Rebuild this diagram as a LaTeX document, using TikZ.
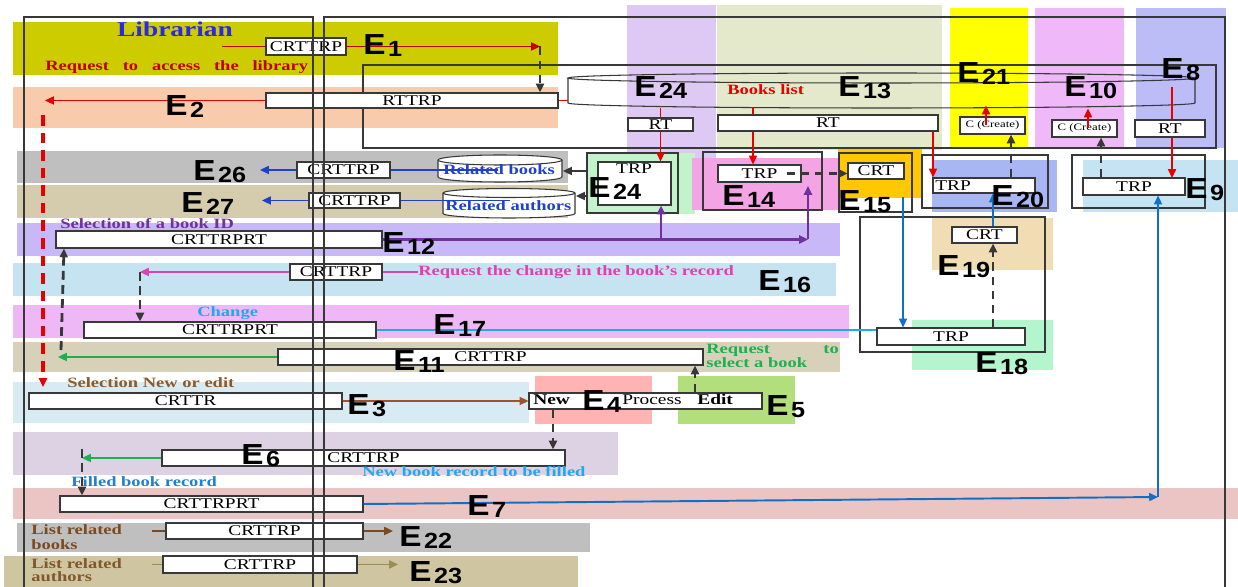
\documentclass[tikz,border=0pt]{standalone}
\usepackage{fontspec}
\setmainfont{Liberation Serif}
\setsansfont{Liberation Sans}
\usepackage{graphicx}
\usetikzlibrary{arrows.meta,calc,fit}
\definecolor{ink}{HTML}{383838}
\definecolor{bOlive}{HTML}{CCCC00}
\definecolor{bPeach}{HTML}{F8CBAD}
\definecolor{bGray}{HTML}{BFBFBF}
\definecolor{bTan}{HTML}{D4CCAC}
\definecolor{bPurp}{HTML}{C8B8F8}
\definecolor{bIce}{HTML}{C5E3F0}
\definecolor{bLilac}{HTML}{EEB8F6}
\definecolor{bTan2}{HTML}{D8D1BA}
\definecolor{bMist}{HTML}{D9EBF2}
\definecolor{bSalm}{HTML}{FFB3B3}
\definecolor{bLime}{HTML}{B2DE7C}
\definecolor{bHeath}{HTML}{DCD2E4}
\definecolor{bRose}{HTML}{EBC4C4}
\definecolor{bKhaki}{HTML}{CFC6A1}
\definecolor{cLav}{HTML}{DDC9F3}
\definecolor{cSage}{HTML}{E4E9CB}
\definecolor{cYel}{HTML}{FFFF00}
\definecolor{cPink}{HTML}{EFB8F8}
\definecolor{cPeri}{HTML}{BCBCF6}
\definecolor{fMint}{HTML}{C3F3CA}
\definecolor{fOrch}{HTML}{F2A4E4}
\definecolor{fAmber}{HTML}{FFC800}
\definecolor{fCorn}{HTML}{A9B6F4}
\definecolor{fSky}{HTML}{C4E3F3}
\definecolor{fSand}{HTML}{F0DDB3}
\definecolor{fJade}{HTML}{B3F6CD}
\definecolor{cRed}{HTML}{E60000}
\definecolor{cDRed}{HTML}{C00000}
\definecolor{cBlue}{HTML}{1F3FD0}
\definecolor{cPurp}{HTML}{7030A0}
\definecolor{cMag}{HTML}{E040B0}
\definecolor{cGreen}{HTML}{1DB050}
\definecolor{cSky}{HTML}{20A8F0}
\definecolor{cDBlue}{HTML}{1070C8}
\definecolor{cBrown}{HTML}{A0522D}
\definecolor{cBrn}{HTML}{8B5A2B}
\definecolor{cBrn2}{HTML}{7B4A20}
\definecolor{cOlv}{HTML}{9B8D55}
\definecolor{cLib}{HTML}{2A2AE0}
\definecolor{cFill}{HTML}{1F7FD0}
\newcommand{\sx}[1]{\scalebox{1.3}[1]{#1}}
\newcommand{\elab}[1]{\scalebox{1.15}[1]{\sffamily\bfseries\fontsize{16.5}{17}\selectfont E\kern1.2pt\raisebox{-1.2pt}{\fontsize{12.5}{13}\selectfont #1}}}
\tikzset{
  bx/.style={draw=ink,fill=white,inner sep=0pt,line width=0.6pt,font=\fontsize{8.5}{9}\selectfont},
  cbx/.style={bx,font=\fontsize{5.6}{6}\selectfont},
  sz/.style 2 args={minimum width=#1*0.02cm,minimum height=#2*0.02cm},
  frm/.style={draw=ink,inner sep=0pt,line width=0.6pt},
  ln/.style={ink,line width=0.6pt},
  lbl/.style={inner sep=0pt,anchor=base west,font=\fontsize{8.1}{9}\selectfont\bfseries},
  btx/.style={inner sep=0pt,anchor=base,font=\fontsize{8.5}{9}\selectfont},
  elb/.style={inner sep=0pt,anchor=south west},
  hd/.style={-{Triangle[length=5pt,width=4.5pt]}},
  sol/.style={line width=1.1pt},
  dsh/.style={ink,line width=1.6pt,dash pattern=on 5pt off 3pt,hd},
}

\begin{document}
\begin{tikzpicture}[x=0.02cm,y=-0.02cm]
  \useasboundingbox (0,0) rectangle (1238,587);
  % ===================== colour bands =====================
  \foreach \c/\xa/\ya/\xb/\yb in {bOlive/13/22/558/75, bPeach/13/87/558/128,
      bGray/17/151/568/183, bTan/17/185/568/218, bPurp/17/223/840/256,
      bIce/13/263/836/296, bLilac/13/305/849/338, bTan2/13/342/840/372,
      bMist/13/382/529/423, bSalm/535/376/652/424, bLime/678/376/795/424,
      bHeath/13/432/618/475, bRose/13/488/1238/519, bGray/17/523/590/552,
      bKhaki/4/556/578/590}
    \fill[\c] (\xa,\ya) rectangle (\xb,\yb);
  \foreach \c/\xa/\ya/\xb/\yb in {cLav/627/5/716/158, cSage/717/5/942/150,
      cYel/950/8/1028/148, cPink/1035/8/1124/148, cPeri/1136/8/1226/148,
      fMint/586/153/695/214, fOrch/692/158/838/210, fAmber/838/149/922/198,
      fCorn/932/160/1057/212, fSky/1083/160/1238/212, fSand/932/218/1053/270,
      fJade/912/320/1053/370}
    \fill[\c] (\xa,\ya) rectangle (\xb,\yb);

  % ===================== frames =====================
  \draw[ln] (363,65) rectangle (1216,148);
  \node[frm,fit={(587,153) (678,213)}] (fE24) {};
  \node[frm,fit={(703,152) (822,210)}] (fE14) {};
  \node[frm,fit={(839,153) (912,212)}] (fE15) {};
  \node[frm,fit={(922,155) (1048,208)}] (fE20) {};
  \node[frm,fit={(1072,155) (1205,208)}] (fE9) {};
  \node[frm,fit={(860,217) (1045,352)}] (fE18) {};

  % databases
  \draw[ln] (568,78) -- (568,103) arc[start angle=180,end angle=0,x radius=313.5,y radius=5] -- (1195,78);
  \draw[ln] (881.5,78) ellipse[x radius=313.5,y radius=5];
  \filldraw[ln,fill=white] (438,160) -- (438,177) arc[start angle=180,end angle=0,x radius=62,y radius=5]
    -- (562,160) arc[start angle=0,end angle=-180,x radius=62,y radius=5] -- cycle;
  \draw[ln] (438,160) arc[start angle=180,end angle=0,x radius=62,y radius=5];
  \filldraw[ln,fill=white] (443,193) -- (443,213.5) arc[start angle=180,end angle=0,x radius=66,y radius=4.5]
    -- (575,193) arc[start angle=0,end angle=-180,x radius=66,y radius=4.5] -- cycle;
  \draw[ln] (443,193) arc[start angle=180,end angle=0,x radius=66,y radius=4.5];
  \coordinate (dbL) at (568,100.5);
  \coordinate (rbL) at (498,170);
  \coordinate (rbR) at (563,171);
  \coordinate (raL) at (510,200.5);
  \coordinate (raR) at (576,196);

  % E8 goes under its RT box
  \coordinate (u8) at (1172,87);

  % ===================== boxes =====================
  \node[bx,sz={80}{17}] (bxE1) at (306,46.5) {\sx{CRTTRP}};
  \node[bx,sz={292}{15}] (bxE2) at (412,100.5) {\sx{RTTRP}};
  \node[bx,sz={93}{16}] (bxE26) at (343.5,170) {\sx{CRTTRP}};
  \node[bx,sz={91}{15}] (bxE27) at (354.5,200.5) {\sx{CRTTRP}};
  \node[bx,sz={326}{17}] (bxE12) at (219,239.5) {\sx{CRTTRPRT}};
  \node[bx,sz={92}{16}] (bxE16) at (336,272) {\sx{CRTTRP}};
  \node[bx,sz={292}{16}] (bxE17) at (230,330) {\sx{CRTTRPRT}};
  \node[bx,sz={425}{16}] (bxE11) at (490.5,357) {\sx{CRTTRP}};
  \node[bx,sz={313}{16}] (bxE3) at (185.5,401) {\sx{CRTTR}};
  \node[bx,sz={233}{16}] (bxNPE) at (645.5,401) {};
  \node[bx,sz={403}{16}] (bxE6) at (363.5,458) {\sx{CRTTRP}};
  \node[bx,sz={303}{16}] (bxE7) at (211.5,504) {\sx{CRTTRPRT}};
  \node[bx,sz={197}{16}] (bxE22) at (264.5,531) {\sx{CRTTRP}};
  \node[bx,sz={194}{17}] (bxE23) at (260,564.5) {\sx{CRTTRP}};
  \draw[cRed,sol,hd] (u8) -- (u8 |- 0,178);
  \node[bx,sz={65}{13}] (rtE24) at (660.5,124.5) {\sx{RT}};
  \node[bx,sz={220}{16}] (rtE13) at (828,123) {\sx{RT}};
  \node[cbx,sz={65}{17}] (crE21) at (992.5,125.5) {\sx{C (Create)}};
  \node[cbx,sz={65}{17}] (crE10) at (1084.5,128.5) {\sx{C (Create)}};
  \node[bx,sz={70}{17}] (rtE8) at (1170,128.5) {\sx{RT}};
  \node[bx,sz={73}{43}] (trpE24) at (634.5,183.5) {};
  \node[bx,sz={83}{17}] (trpE14) at (759.5,173.5) {\sx{TRP}};
  \node[bx,sz={56}{16}] (crtE15) at (876,171) {\sx{CRT}};
  \node[bx,sz={102}{15}] (trpE20) at (984,185.5) {};
  \node[bx,sz={102}{17}] (trpE9) at (1134,186.5) {\sx{TRP}};
  \node[bx,sz={65}{16}] (crtE19) at (984.5,235) {\sx{CRT}};
  \node[bx,sz={148}{17}] (trpE18) at (951,336.5) {\sx{TRP}};
  \node[btx] (tTrp24) at (634,174) {\sx{TRP}};
  \node[btx,anchor=base west] (tTrp20) at (935,191) {\sx{TRP}};
  \node[btx,anchor=base west,font=\fontsize{8.5}{9}\selectfont\bfseries] (tNew) at (533,405) {\sx{New}};
  \node[btx,anchor=base west] (tProc) at (622,405) {\sx{Process}};
  \node[btx,anchor=base west,font=\fontsize{8.5}{9}\selectfont\bfseries] (tEdit) at (697,405) {\sx{Edit}};

  % ===================== connectors =====================
  \coordinate (reqS) at (222,46.5);
  \coordinate (c1) at (540,46.5);
  \draw[cDRed,sol] (reqS) -- (bxE1.west);
  \draw[cDRed,sol,hd] (bxE1.east) -- (c1);
  \draw[dsh] (c1) -- (c1 |- bxE2.north);
  \coordinate (c2) at (45,100.5);
  \draw[cRed,sol,hd] (bxE2.west) -- (c2);
  \draw[cRed,sol] (bxE2.east) -- (dbL);
  \coordinate (d2a) at (43,115);
  \coordinate (d2b) at (43,387);
  \draw[cRed,line width=2pt,dash pattern=on 6pt off 4pt,hd] (d2a) -- (d2b);
  % related books / authors
  \coordinate (c26) at (260,170);
  \coordinate (c27) at (262,200.5);
  \draw[cBlue,sol,hd] (bxE26.west) -- (c26);
  \draw[cBlue,sol] (bxE26.east) -- (rbL);
  \draw[cBlue,sol,hd] (bxE27.west) -- (c27);
  \draw[cBlue,sol] (bxE27.east) -- (raL);
  \draw[ink,sol,hd] (fE24.west |- rbR) -- (rbR);
  \draw[ink,sol,hd] (fE24.west |- raR) -- (raR);
  % columns
  \coordinate (c24) at (660.5,108);
  \draw[cRed,sol] (c24) -- (rtE24.north);
  \draw[cRed,sol,hd] (rtE24.south) -- (rtE24.south |- trpE24.north);
  \coordinate (blist) at (753,107);
  \draw[cRed,sol] (blist) -- (blist |- rtE13.north);
  \draw[cRed,sol,hd] (blist |- rtE13.south) -- (blist |- trpE14.north);
  \coordinate (c13) at (933,0);
  \draw[cRed,sol,hd] (c13 |- rtE13.south) -- (c13 |- trpE20.north);
  \coordinate (u21) at (986,0);
  \coordinate (u10) at (1088,0);
  \draw[cRed,sol,hd] (u21 |- crE21.center) -- ++(0,-20);
  \draw[cRed,sol,hd] (u10 |- crE10.center) -- ++(0,-20);
  \coordinate (v20) at (1011,0);
  \coordinate (v9) at (1101,0);
  \draw[dsh] (v20 |- trpE20.north) -- (v20 |- crE21.south);
  \draw[dsh] (v9 |- trpE9.north) -- (v9 |- crE10.south);
  \draw[dsh] ($(trpE14.east)+(-15,0)$) -- (crtE15.west |- trpE14.east);
  % selection of a book
  \coordinate (p14) at (808,0);
  \coordinate (p14top) at (808,186);
  \coordinate (p24) at (661,0);
  \draw[cPurp,line width=1.5pt,hd] (bxE12.east) -- (bxE12.east -| p14);
  \draw[cPurp,line width=1.5pt,hd] (bxE12.east -| p14) -- (p14top);
  \draw[cPurp,line width=1.5pt,hd] (bxE12.east -| p24) -- (p24 |- trpE24.south);
  % change of the record
  \coordinate (m16) at (140,272);
  \coordinate (m16r) at (418,272);
  \draw[cMag,sol,hd] (bxE16.west) -- (m16);
  \draw[cMag,sol] (bxE16.east) -- (m16r);
  \draw[dsh] (m16) -- (m16 |- bxE17.north);
  \coordinate (g11) at (58,357);
  \draw[cGreen,sol,hd] (bxE11.west) -- (g11);
  \coordinate (k1) at (61,350);
  \coordinate (k2) at (64,0);
  \draw[dsh] (k1) -- (k2 |- bxE12.south);
  \draw[cSky,sol] (bxE17.east) -- (bxE17.east -| trpE18.west);
  \coordinate (b15) at (903,197);
  \draw[cDBlue,sol,hd] (b15) -- (b15 |- trpE18.north);
  \coordinate (u19) at (993,0);
  \draw[cDBlue,sol,hd] (u19 |- crtE19.north) -- (u19 |- trpE20.south);
  \draw[dsh] (u19 |- trpE18.north) -- (u19 |- crtE19.south);
  % new or edit
  \draw[cBrown,sol,hd] (bxE3.east) -- (bxNPE.west);
  \coordinate (u4) at (553,0);
  \coordinate (u5) at (695,0);
  \draw[dsh] (u4 |- bxNPE.south) -- (u4 |- bxE6.north);
  \draw[dsh] (u5 |- bxNPE.north) -- (u5 |- bxE11.south);
  \coordinate (g6) at (82,458);
  \draw[cGreen,sol,hd] (bxE6.west) -- (g6);
  \coordinate (k6) at (82,449);
  \draw[dsh] (k6) -- (k6 |- bxE7.north);
  \coordinate (c9) at (1158,497);
  \draw[cDBlue,sol,hd] (bxE7.east) -- (c9);
  \draw[cDBlue,sol,hd] (c9) -- (c9 |- trpE9.south);
  % related lists
  \coordinate (s22) at (152,531);
  \coordinate (t22) at (393,531);
  \draw[cBrn2,sol] (s22) -- (bxE22.west);
  \draw[cBrn2,sol,hd] (bxE22.east) -- (t22);
  \coordinate (s23) at (152,564.5);
  \coordinate (t23) at (398,564.5);
  \draw[cOlv,sol] (s23) -- (bxE23.west);
  \draw[cOlv,sol,hd] (bxE23.east) -- (t23);

  % lifelines
  \draw[ln] (24,17) rectangle (313,600);
  \draw[ln] (324,17) rectangle (1225,600);

  % ===================== texts =====================
  \node[inner sep=0pt,anchor=base,font=\fontsize{12}{13}\selectfont\bfseries,text=cLib] (tLib) at (175,37) {\sx{Librarian}};
  \node[lbl,text=cDRed] (tReq) at (45,71) {\sx{\makebox[115pt][s]{Request to access the library}}};
  \node[lbl,text=cRed] (tBl) at (727,95) {\sx{Books list}};
  \node[lbl,text=cBlue] (tRb) at (443,175) {\sx{Related books}};
  \node[lbl,text=cBlue] (tRa) at (445,211) {\sx{Related authors}};
  \node[lbl,text=cPurp] (tSel) at (60,229) {\sx{Selection of a book ID}};
  \node[lbl,text=cMag] (tChg) at (418,276) {\sx{Request the change in the book’s record}};
  \node[lbl,text=cSky] (tCh) at (197,317) {\sx{Change}};
  \node[lbl,text=cGreen] (tRs1) at (706,354) {\sx{\makebox[58pt][s]{Request to}}};
  \node[lbl,text=cGreen] (tRs2) at (706,368) {\sx{select a book}};
  \node[lbl,text=cBrn] (tSn) at (67,388) {\sx{Selection New or edit}};
  \node[lbl,text=cSky] (tNb) at (362,477) {\sx{New book record to be filled}};
  \node[lbl,text=cFill] (tFb) at (71,487) {\sx{Filled book record}};
  \node[lbl,text=cBrn2] (tLb1) at (31,535) {\sx{List related}};
  \node[lbl,text=cBrn2] (tLb2) at (31,549) {\sx{books}};
  \node[lbl,text=cBrn2!80!cOlv] (tLa1) at (31,568) {\sx{List related}};
  \node[lbl,text=cBrn2!80!cOlv] (tLa2) at (31,582) {\sx{authors}};

  % ===================== E labels =====================
  \foreach \nm/\n/\x/\y in {E1/1/363/57, E2/2/165/118, E26/26/193/183, E27/27/181/215,
      E24a/24/634/99, E13/13/838/99, E21/21/957/85, E10/10/1064/99, E8/8/1161/81,
      E24b/24/588/200, E14/14/722/208, E15/15/838/213, E20/20/991/208, E9/9/1185/201,
      E12/12/382/255, E16/16/758/293, E19/19/937/278, E17/17/433/337, E11/11/393/373,
      E18/18/975/375, E3/3/347/417, E4/4/582/413, E5/5/766/418, E6/6/241/467,
      E7/7/467/518, E22/22/399/549, E23/23/409/584}
    \node[elb] (\nm) at (\x,\y) {\elab{\n}};
\end{tikzpicture}
\end{document}
